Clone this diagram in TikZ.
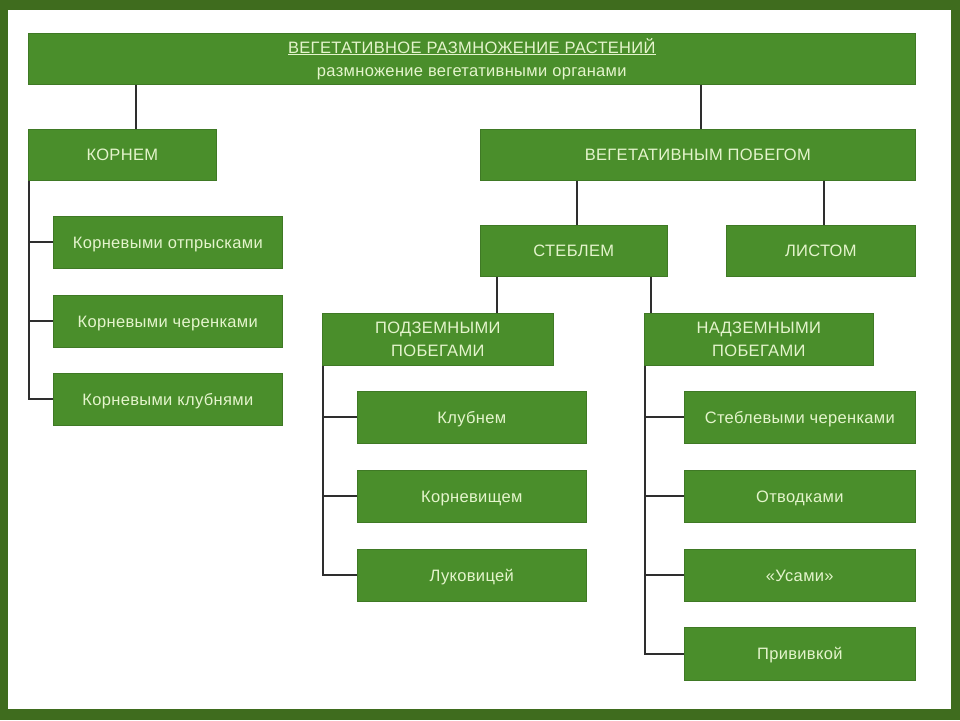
\documentclass[tikz,border=0pt]{standalone}
\usepackage{fontspec}
\setmainfont{Liberation Sans}[LetterSpace=2]
\definecolor{frame}{HTML}{3F6C1E}
\definecolor{boxg}{HTML}{4A8E2B}
\definecolor{txt}{HTML}{E4F4CC}
\definecolor{conn}{HTML}{2E2E2E}
\begin{document}
\begin{tikzpicture}[x=1pt,y=-1pt,
  gbox/.style={fill=boxg,draw=boxg!85!black,line width=0.6pt,text=txt,font=\fontsize{16.5}{23}\selectfont,align=center,inner sep=0pt,anchor=north west},
  onebox/.style={gbox,text height=15pt,text depth=3.5pt},
  conline/.style={draw=conn,line width=1.8pt}]
\fill[frame] (0,0) rectangle (960,720);
\fill[white] (8,10) rectangle (951,709);
\useasboundingbox (0,0) rectangle (960,720);
% boxes
\node[gbox,minimum width=887pt,minimum height=51pt] (top) at (28,33) {\underline{ВЕГЕТАТИВНОЕ РАЗМНОЖЕНИЕ РАСТЕНИЙ}\\размножение вегетативными органами};
\node[onebox,minimum width=188pt,minimum height=51pt] (kor) at (28,129) {КОРНЕМ};
\node[onebox,minimum width=435pt,minimum height=51pt] (veg) at (480,129) {ВЕГЕТАТИВНЫМ ПОБЕГОМ};
\node[onebox,minimum width=229pt,minimum height=52pt] (k1) at (53,216) {Корневыми отпрысками};
\node[onebox,minimum width=229pt,minimum height=52pt] (k2) at (53,295) {Корневыми черенками};
\node[onebox,minimum width=229pt,minimum height=52pt] (k3) at (53,373) {Корневыми клубнями};
\node[onebox,minimum width=187pt,minimum height=51pt] (steb) at (480,225) {СТЕБЛЕМ};
\node[onebox,minimum width=189pt,minimum height=51pt] (list) at (726,225) {ЛИСТОМ};
\node[gbox,minimum width=231pt,minimum height=52pt] (pod) at (322,313) {ПОДЗЕМНЫМИ\\ПОБЕГАМИ};
\node[gbox,minimum width=229pt,minimum height=52pt] (nad) at (644,313) {НАДЗЕМНЫМИ\\ПОБЕГАМИ};
\node[onebox,minimum width=229pt,minimum height=52pt] (p1) at (357,391) {Клубнем};
\node[onebox,minimum width=229pt,minimum height=52pt] (p2) at (357,470) {Корневищем};
\node[onebox,minimum width=229pt,minimum height=52pt] (p3) at (357,549) {Луковицей};
\node[onebox,minimum width=231pt,minimum height=52pt] (n1) at (684,391) {Стеблевыми черенками};
\node[onebox,minimum width=231pt,minimum height=52pt] (n2) at (684,470) {Отводками};
\node[onebox,minimum width=231pt,minimum height=52pt] (n3) at (684,549) {«Усами»};
\node[onebox,minimum width=231pt,minimum height=53pt] (n4) at (684,627) {Прививкой};
% connectors
\draw[conline] (top.south west) ++(108,0) coordinate (c1) -- (c1 |- kor.north);
\draw[conline] (top.south west) ++(673,0) coordinate (c2) -- (c2 |- veg.north);
\draw[conline] (veg.south west) ++(97,0) coordinate (c3) -- (c3 |- steb.north);
\draw[conline] (veg.south west) ++(344,0) coordinate (c4) -- (c4 |- list.north);
\draw[conline] (steb.south west) ++(17,0) coordinate (c5) -- (c5 |- pod.north);
\draw[conline] (steb.south west) ++(171,0) coordinate (c6) -- (c6 |- nad.north);
% left tree
\coordinate (kt) at ([xshift=1pt]kor.south west);
\draw[conline] (kt) -- (kt |- k3.west) -- (k3.west);
\draw[conline] (kt |- k1.west) -- (k1.west);
\draw[conline] (kt |- k2.west) -- (k2.west);
% pod tree
\coordinate (pt) at ([xshift=1pt]pod.south west);
\draw[conline] (pt) -- (pt |- p3.west) -- (p3.west);
\draw[conline] (pt |- p1.west) -- (p1.west);
\draw[conline] (pt |- p2.west) -- (p2.west);
% nad tree
\coordinate (nt) at ([xshift=1pt]nad.south west);
\draw[conline] (nt) -- (nt |- n4.west) -- (n4.west);
\draw[conline] (nt |- n1.west) -- (n1.west);
\draw[conline] (nt |- n2.west) -- (n2.west);
\draw[conline] (nt |- n3.west) -- (n3.west);
\end{tikzpicture}
\end{document}
